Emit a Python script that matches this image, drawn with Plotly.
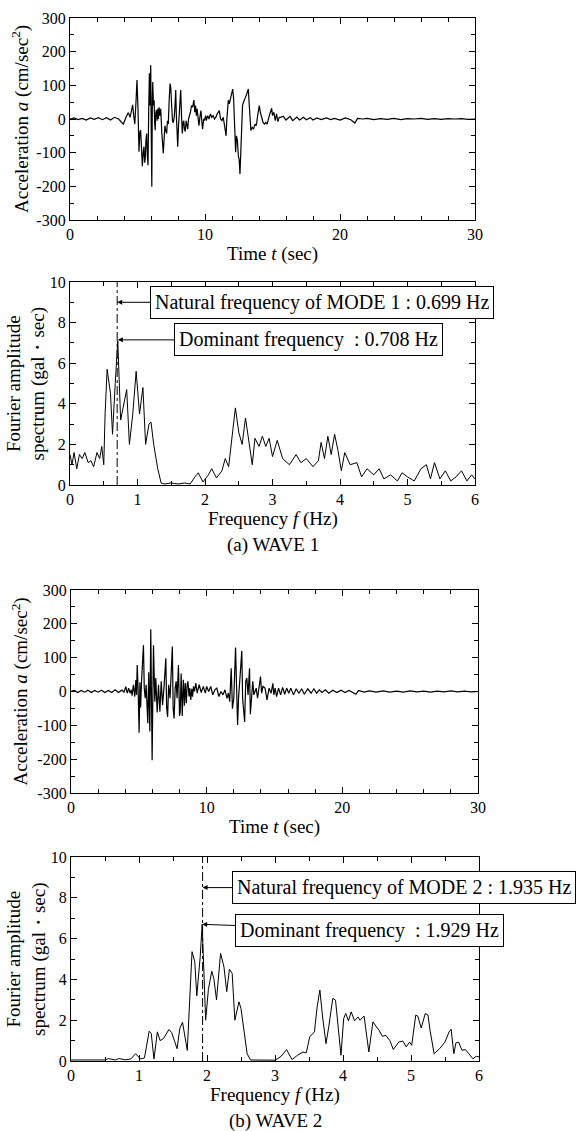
import plotly.graph_objects as go

W, H = 580, 1131
FONT = "Liberation Serif"

# ---- WAVE 1 : acceleration record ----
t1 = [0, 0.3, 0.6, 0.9, 1.2, 1.5, 1.8, 2.1, 2.4, 2.7, 3.0, 3.3, 3.6, 3.95,
      4.15, 4.32, 4.45, 4.55, 4.64, 4.72, 4.8, 4.9, 4.96, 5.03, 5.11, 5.17, 5.23, 5.3, 5.36,
      5.42, 5.48, 5.53, 5.58, 5.63, 5.68, 5.73, 5.78, 5.83, 5.88, 5.91, 5.94, 5.98, 6.02, 6.06,
      6.1, 6.13, 6.18, 6.23, 6.27, 6.31, 6.36, 6.41, 6.46, 6.5, 6.55, 6.6, 6.66, 6.72, 6.8,
      6.86, 6.91, 6.97, 7.03, 7.1, 7.16, 7.22, 7.28, 7.35, 7.41, 7.46, 7.52, 7.59, 7.65, 7.72,
      7.78, 7.83, 7.88, 7.93, 7.98, 8.04, 8.09, 8.14, 8.2, 8.26, 8.32, 8.38, 8.43, 8.48, 8.54,
      8.6, 8.66, 8.72, 8.78, 8.85, 8.92, 9.0, 9.08, 9.18, 9.24, 9.3, 9.36, 9.42, 9.5, 9.55,
      9.62, 9.7, 9.77, 9.82, 9.9, 9.95, 10.05, 10.1, 10.2, 10.3, 10.4, 10.5, 10.6, 10.7, 10.8,
      10.9, 11.06, 11.15, 11.25, 11.35, 11.45, 11.56, 11.62, 11.73, 11.8, 11.87, 11.98, 12.05,
      12.12, 12.18, 12.27, 12.33, 12.4, 12.47, 12.53, 12.59, 12.65, 12.72, 12.78, 12.85, 12.92,
      13.0, 13.1, 13.21, 13.28, 13.34, 13.4, 13.5, 13.6, 13.7, 13.8, 13.9, 14.02, 14.1, 14.2,
      14.3, 14.4, 14.5, 14.6, 14.7, 14.8, 14.94, 15.0, 15.1, 15.2, 15.3, 15.4, 15.5, 15.6,
      15.8, 16.0, 16.3, 16.5, 16.8, 17.0, 17.3, 17.5, 17.8, 18.0, 18.3, 18.6, 19.0, 19.3,
      19.6, 20.0, 20.4, 20.8, 21.1, 21.3, 21.7, 22.0, 22.5, 23.0, 23.5, 24.0, 24.5, 25.0,
      25.5, 26.0, 26.5, 27.0, 27.5, 28.0, 28.5, 29.0, 29.5, 30.0]
a1 = [0, 3, -2, 2, -3, 3, -1, 4, -2, 4, -3, 5, 0, -15,
      5, 19, 5, 25, 42, 10, -15, 60, 116, 40, -97, -40, -33, -90, -140,
      -100, -82, -130, -112, -60, -43, -110, -137, 30, 136, 40, 110, 160, -50, -201,
      60, 110, 40, 56, -10, -33, 20, 27, -5, 30, 0, 35, 10, 30, -40,
      -80, -102, -60, -20, -35, -43, -5, -15, 60, 105, 95, 30, -5, -11, 5,
      40, 86, 10, -50, -82, -20, 30, 60, 86, 10, -43, -10, -5, -30, -37,
      -5, -20, -30, 0, 10, 20, 40, 35, 56, 20, 40, 10, 30, -5, -20,
      5, 25, -10, -30, 0, -5, 10, -5, 10, 0, 15, 5, 10, 0, 5,
      15, 25, 0, -5, 5, -20, -50, 0, 56, 45, 60, 86, 89,
      60, -20, -99, -50, -65, -110, -120, -163, -90, -30, 40, 50, 55,
      65, 75, 89, 40, -10, -34, -25, -30, -15, -20, 10, 40, 20, 0,
      -10, -15, -10, -15, 5, 15, 32, 10, 20, -5, 15, -8, 5, 5,
      8, -3, 8, -5, 6, -3, 5, -2, 4, -3, 3, -2, 3, -2,
      2, -3, 3, -2, -12, 2, 0, 2, -2, 1, -1, 2, -2, 1,
      0, 2, -1, 1, -1, 1, 0, 1, -1, 0]

# ---- WAVE 2 : acceleration record ----
t2 = [0, 0.25, 0.5, 0.75, 1.0, 1.25, 1.5, 1.75, 2.0, 2.25, 2.5, 2.75, 3.0, 3.25, 3.5, 3.75, 3.9,
      4.04, 4.15, 4.25, 4.35, 4.45, 4.5, 4.6, 4.7, 4.78, 4.83, 4.88, 4.95, 5.02, 5.08, 5.13,
      5.2, 5.27, 5.34, 5.4, 5.47, 5.54, 5.6, 5.66, 5.73, 5.81, 5.88, 5.98, 6.08, 6.18, 6.25,
      6.35, 6.45, 6.55, 6.65, 6.75, 6.85, 6.99, 7.05, 7.12, 7.2, 7.3, 7.38, 7.47, 7.53, 7.6,
      7.68, 7.75, 7.82, 7.92, 8.0, 8.05, 8.12, 8.2, 8.28, 8.36, 8.42, 8.5, 8.56, 8.62, 8.7,
      8.76, 8.83, 8.9, 8.96, 9.03, 9.1, 9.2, 9.3, 9.45, 9.6, 9.75, 9.9, 10.0, 10.15, 10.3,
      10.45, 10.6, 10.75, 10.9, 11.05, 11.2, 11.35, 11.5, 11.6, 11.7, 11.81, 11.9, 12.0,
      12.13, 12.2, 12.28, 12.35, 12.45, 12.59, 12.65, 12.72, 12.8, 12.88, 12.96, 13.05,
      13.16, 13.22, 13.3, 13.4, 13.48, 13.56, 13.65, 13.75, 13.85, 13.97, 14.05, 14.15,
      14.3, 14.45, 14.6, 14.75, 14.88, 14.95, 15.05, 15.15, 15.3, 15.45, 15.6, 15.75, 15.9,
      16.05, 16.2, 16.4, 16.6, 16.8, 17.0, 17.2, 17.45, 17.7, 17.9, 18.1, 18.3, 18.5, 18.75,
      19.0, 19.3, 19.6, 19.9, 20.2, 20.5, 20.8, 21.0, 21.2, 21.6, 22.0, 22.5, 23.0, 23.5,
      24.0, 24.5, 25.0, 25.5, 26.0, 26.5, 27.0, 27.5, 28.0, 28.5, 29.0, 29.5, 30.0]
a2 = [0, 3, -3, 3, -2, 4, -3, 3, -2, 4, -3, 3, -3, 5, -3, 4, -2,
      14, -5, 10, -5, 5, -12, 20, -15, 34, -10, 78, 0, -122, 27, -47,
      30, 80, 137, 10, -20, 20, -60, -94, 57, -118, 184, -203, 137, -30, 40,
      -62, 20, -60, 30, -40, 10, 98, -47, -75, 20, -20, 50, 133, -50, -80,
      10, 30, -20, 78, -72, -60, 53, -72, 35, -42, 25, -35, 20, 30, -15,
      10, -25, 8, -15, 15, 0, 25, -5, 20, -3, 15, -5, 15, 0, 15,
      -10, 5, 10, -15, 0, -10, 5, -20, -5, -30, 69, -51, -20,
      130, 20, -99, -20, 40, 120, -20, -60, -90, 30, 40, -10,
      69, -67, -20, 30, -10, 0, 10, -20, 10, 44, -5, 15,
      10, -25, 10, -5, 24, -10, 10, -15, 10, -10, 12, -8, 10,
      -5, 10, -10, 8, -5, 8, -8, 8, -5, 8, -5, 5, -3, 5,
      -5, 4, -3, 4, -3, 3, -3, -8, 3, -2, 2, -2, 2, -2,
      1, -2, 2, -1, 1, -2, 1, -1, 2, -1, 1, -1, 0]

# ---- Fourier amplitude spectra ----
f1 = [0.0, 0.03, 0.06, 0.1, 0.14, 0.18, 0.22, 0.27, 0.31, 0.35, 0.4, 0.44, 0.47, 0.5, 0.52,
      0.55, 0.6, 0.63, 0.67, 0.708, 0.75, 0.8, 0.84, 0.88, 0.93, 0.98, 1.03, 1.08, 1.12, 1.17,
      1.2, 1.24, 1.3, 1.35, 1.4, 1.5, 1.6, 1.7, 1.78, 1.85, 1.9, 1.97, 2.05, 2.1, 2.17, 2.25,
      2.3, 2.35, 2.4, 2.45, 2.5, 2.55, 2.6, 2.66, 2.7, 2.74, 2.8, 2.85, 2.9, 2.95, 3.0, 3.07,
      3.15, 3.25, 3.35, 3.42, 3.5, 3.6, 3.68, 3.72, 3.77, 3.82, 3.87, 3.92, 3.97, 4.02, 4.07,
      4.15, 4.25, 4.32, 4.4, 4.5, 4.58, 4.65, 4.75, 4.85, 4.92, 5.0, 5.1, 5.2, 5.28, 5.34,
      5.4, 5.48, 5.56, 5.64, 5.72, 5.8, 5.88, 5.95, 6.0]
s1 = [1.5, 1.0, 1.6, 0.8, 1.5, 1.3, 1.6, 1.1, 1.2, 0.9, 1.6, 1.3, 1.9, 1.0, 3.5,
      5.7, 4.5, 2.5, 5.0, 7.1, 3.2, 4.0, 4.7, 2.0, 3.5, 5.6, 3.5, 4.8, 2.0, 3.0,
      3.1, 2.0, 0.8, 0.1, 0.05, 0.1, 0.05, 0.1, 0.05, 0.4, 0.6, 0.15, 0.5, 0.8, 0.35, 0.7,
      1.3, 0.9, 2.3, 3.8, 2.6, 2.0, 3.3, 2.0, 1.0, 2.3, 1.9, 2.4, 1.9, 2.3, 1.4, 2.2,
      1.3, 1.0, 1.5, 1.1, 1.3, 0.9, 1.2, 2.1, 1.3, 2.4, 1.5, 2.5, 1.7, 0.7, 1.6,
      1.0, 1.1, 0.4, 0.8, 0.5, 0.8, 0.3, 0.5, 0.2, 0.6, 0.4, 0.2, 0.8, 1.0, 0.3,
      1.1, 0.3, 0.7, 0.2, 0.4, 0.7, 0.2, 0.5, 0.3]

f2 = [0.0, 0.3, 0.5, 0.55, 0.65, 0.7, 0.8, 0.88, 0.95, 1.02, 1.08, 1.15, 1.18, 1.22, 1.27,
      1.31, 1.36, 1.44, 1.48, 1.52, 1.56, 1.6, 1.64, 1.71, 1.75, 1.78, 1.82, 1.85, 1.9,
      1.929, 1.98, 2.02, 2.07, 2.1, 2.14, 2.2, 2.25, 2.29, 2.33, 2.37, 2.41, 2.47, 2.5,
      2.55, 2.59, 2.64, 2.8, 3.0, 3.09, 3.17, 3.25, 3.33, 3.41, 3.46, 3.51, 3.58, 3.62,
      3.66, 3.7, 3.75, 3.79, 3.85, 3.89, 3.93, 3.97, 4.01, 4.04, 4.08, 4.12, 4.17, 4.22,
      4.25, 4.31, 4.38, 4.44, 4.53, 4.58, 4.63, 4.69, 4.74, 4.82, 4.88, 4.93, 4.98, 5.01,
      5.07, 5.1, 5.15, 5.21, 5.25, 5.28, 5.34, 5.42, 5.5, 5.56, 5.59, 5.63, 5.66, 5.7,
      5.75, 5.8, 5.85, 5.91, 5.96, 6.0]
s2 = [0.05, 0.03, 0.05, 0.12, 0.05, 0.12, 0.06, 0.1, 0.36, 0.1, 0.15, 1.46, 1.35, 0.1, 1.43,
      1.0, 1.1, 1.54, 1.4, 1.0, 0.6, 1.6, 1.9, 0.52, 3.0, 5.36, 4.87, 3.2, 5.1,
      6.7, 2.0, 3.5, 4.4, 4.05, 3.0, 5.28, 4.6, 3.4, 4.5, 4.3, 2.0, 2.9, 2.57,
      1.43, 0.36, 0.05, 0.05, 0.04, 0.23, 0.56, 0.07, 0.28, 0.44, 0.4, 1.18, 1.43, 2.66,
      3.48, 2.16, 0.85, 1.67, 3.07, 2.98, 1.75, 0.28, 2.08, 2.33, 1.97, 2.41, 1.97, 2.16,
      2.0, 2.2, 0.44, 1.92, 1.5, 1.21, 1.26, 1.0, 0.56, 0.93, 0.98, 0.69, 0.93, 0.77,
      2.25, 2.2, 1.62, 2.33, 2.25, 1.5, 0.36, 0.6, 0.93, 1.43, 1.56, 0.36, 0.88, 0.93,
      0.52, 0.56, 0.36, 0.11, 0.23, 0.2]

# natural / dominant frequencies and arrow heights
f_nat = [0.699, 1.935]
f_dom = [0.708, 1.929]
y_nat_arrow = [9.0, 8.5]
y_dom_arrow = [7.15, 6.7]
nat_labels = ["Natural frequency of MODE 1 : 0.699 Hz", "Natural frequency of MODE 2 : 1.935 Hz"]
dom_labels = ["Dominant frequency\u00a0 : 0.708 Hz", "Dominant frequency\u00a0 : 1.929 Hz"]
captions = ["(a) WAVE 1", "(b) WAVE 2"]

acc_ticks = [-300, -200, -100, 0, 100, 200, 300]
acc_ticktext = ["-300", "-200", "-100", "0", "100", "200", "300"]

# panel boxes in pixels: (left, right, top, bottom)
boxes = [(70, 475, 18, 220), (70, 475, 282, 485), (71, 478, 590, 793), (71, 479, 857, 1061)]


def xdom(b):
    return [b[0] / W, b[1] / W]


def ydom(b):
    return [1 - b[3] / H, 1 - b[2] / H]


def axis(dtick, minor, **kw):
    d = dict(showline=True, linecolor="black", linewidth=1.3, mirror="ticks",
             ticks="inside", ticklen=6, tickwidth=1, tickcolor="black",
             showgrid=False, zeroline=False, dtick=dtick, automargin=False,
             tickfont=dict(family=FONT, size=16, color="black"),
             minor=dict(dtick=minor, ticks="inside", ticklen=3.5, tickwidth=1,
                        tickcolor="black", showgrid=False))
    d.update(kw)
    return d


fig = go.Figure()
line = dict(color="black", width=1.2)

fig.add_trace(go.Scatter(x=t1, y=a1, mode="lines", line=line, xaxis="x", yaxis="y"))
fig.add_trace(go.Scatter(x=f1, y=s1, mode="lines", line=dict(color="black", width=1), xaxis="x2", yaxis="y2"))
fig.add_trace(go.Scatter(x=t2, y=a2, mode="lines", line=line, xaxis="x3", yaxis="y3"))
fig.add_trace(go.Scatter(x=f2, y=s2, mode="lines", line=dict(color="black", width=1), xaxis="x4", yaxis="y4"))

# dash-dot marker of the natural frequency
for i, (xa, ya) in enumerate([("x2", "y2"), ("x4", "y4")]):
    fig.add_trace(go.Scatter(x=[f_nat[i], f_nat[i]], y=[0, 10], mode="lines",
                             line=dict(color="black", width=1, dash="dashdot"),
                             xaxis=xa, yaxis=ya))

fig.update_layout(
    width=W, height=H, showlegend=False, autosize=False,
    margin=dict(l=0, r=0, t=0, b=0, pad=0, autoexpand=False),
    paper_bgcolor="white", plot_bgcolor="white",
    font=dict(family=FONT, size=16, color="black"),
    xaxis=axis(10, 2, domain=xdom(boxes[0]), range=[0, 30], anchor="y"),
    yaxis=axis(100, 50, domain=ydom(boxes[0]), range=[-300, 300], anchor="x",
               tickvals=acc_ticks, ticktext=acc_ticktext),
    xaxis2=axis(1, 0.5, domain=xdom(boxes[1]), range=[0, 6], anchor="y2"),
    yaxis2=axis(2, 1, domain=ydom(boxes[1]), range=[0, 10], anchor="x2"),
    xaxis3=axis(10, 2, domain=xdom(boxes[2]), range=[0, 30], anchor="y3"),
    yaxis3=axis(100, 50, domain=ydom(boxes[2]), range=[-300, 300], anchor="x3",
                tickvals=acc_ticks, ticktext=acc_ticktext),
    xaxis4=axis(1, 0.5, domain=xdom(boxes[3]), range=[0, 6], anchor="y4"),
    yaxis4=axis(2, 1, domain=ydom(boxes[3]), range=[0, 10], anchor="x4"),
)

ann = []
title_font = dict(family=FONT, size=19, color="black")


def label(text, xpx, ypx, angle=0):
    return dict(text=text, x=xpx / W, y=1 - ypx / H, xref="paper", yref="paper",
                xanchor="center", yanchor="middle", textangle=angle, showarrow=False,
                font=title_font)


for k, b in enumerate(boxes):
    xc = (b[0] + b[1]) / 2
    yc = (b[2] + b[3]) / 2
    if k % 2 == 0:
        ann.append(label("Acceleration <i>a</i> (cm/sec<sup>2</sup>)", 20, yc, -90))
        ann.append(label("Time <i>t</i> (sec)", xc, b[3] + 34))
    else:
        ann.append(label("Fourier amplitude<br>spectrum (gal\u30fbsec)", 26, yc, -90))
        ann.append(label("Frequency <i>f</i> (Hz)", xc, b[3] + 34))
        ann.append(label(captions[k // 2], xc, b[3] + 60))

box_font = dict(family=FONT, size=20, color="black")
offsets = [(205, 0, 191, 0), (201, 0, 167, 6)]
for i, (xa, ya) in enumerate([("x2", "y2"), ("x4", "y4")]):
    ax1, ay1, ax2, ay2 = offsets[i]
    ann.append(dict(text=nat_labels[i], x=f_nat[i], y=y_nat_arrow[i], xref=xa, yref=ya,
                    showarrow=True, ax=ax1, ay=ay1, arrowhead=2, arrowsize=1, arrowwidth=1,
                    arrowcolor="black", bordercolor="black", borderwidth=1, borderpad=4,
                    bgcolor="white", font=box_font))
    ann.append(dict(text=dom_labels[i], x=f_dom[i], y=y_dom_arrow[i], xref=xa, yref=ya,
                    showarrow=True, ax=ax2, ay=ay2, arrowhead=2, arrowsize=1, arrowwidth=1,
                    arrowcolor="black", bordercolor="black", borderwidth=1, borderpad=4,
                    bgcolor="white", font=box_font))

fig.update_layout(annotations=ann)
# the page body has a default 8px margin; drop it so the figure fills the window
fig.write_html("out.html", config={"displayModeBar": False},
               post_script="document.body.style.margin='0';")
